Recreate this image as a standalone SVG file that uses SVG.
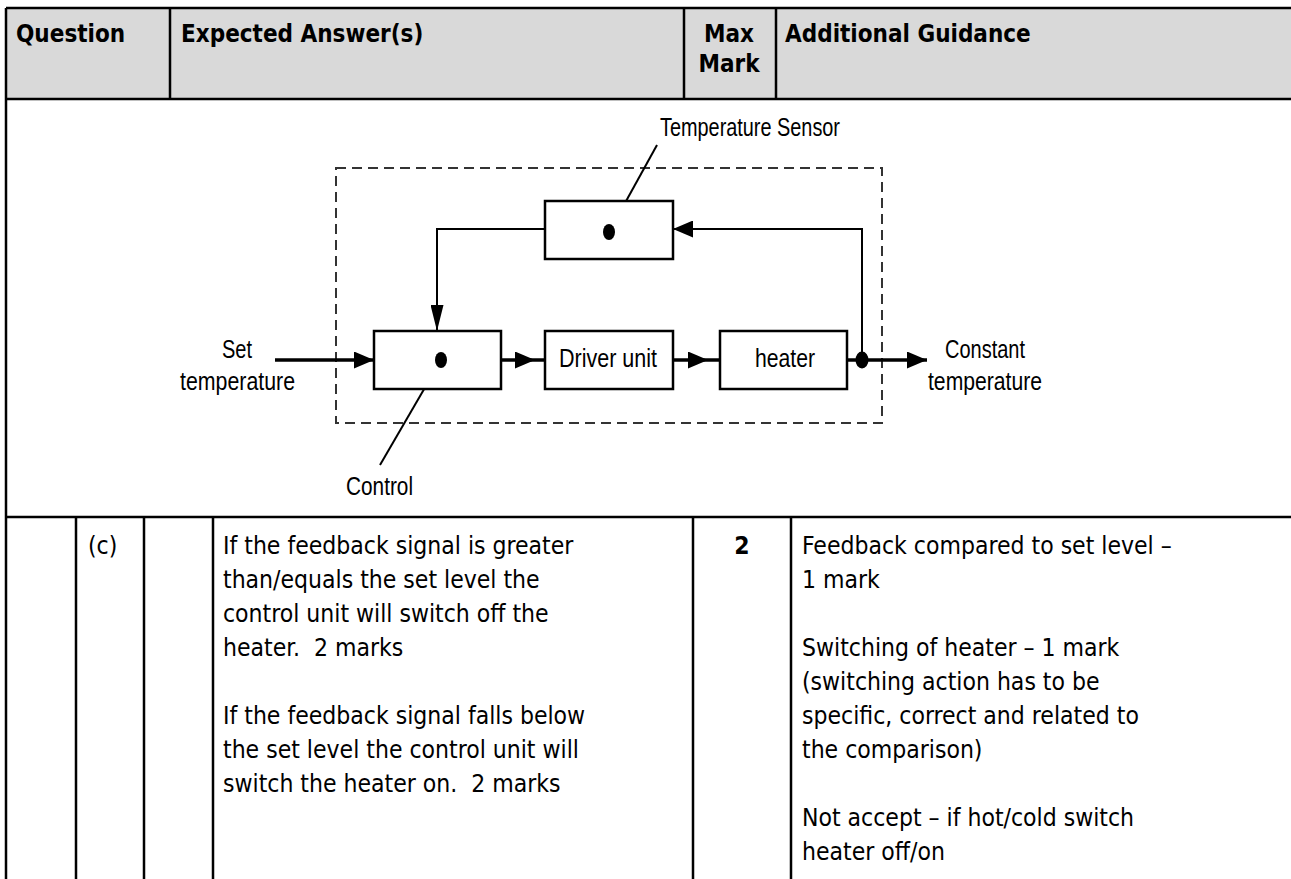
<svg xmlns="http://www.w3.org/2000/svg" width="1291" height="879" viewBox="0 0 1291 879">
<style>
.tl{stroke:#000;stroke-width:2.5;fill:none}
.hd{font-family:"DejaVu Sans Condensed","DejaVu Sans",sans-serif;font-stretch:condensed;font-weight:bold;font-size:24px;fill:#000}
.bd{font-family:"DejaVu Sans Condensed","DejaVu Sans",sans-serif;font-stretch:condensed;font-size:24.5px;fill:#000}
.dg{font-family:"Liberation Sans",Arial,sans-serif;font-size:25px;fill:#000}
.box{fill:#fff;stroke:#000;stroke-width:2.5}
.sig{stroke:#000;stroke-width:3.5;fill:none}
.fb{stroke:#000;stroke-width:2;fill:none}
.ld{stroke:#000;stroke-width:2;fill:none}
</style>
<defs>
<marker id="ah" markerUnits="userSpaceOnUse" markerWidth="20" markerHeight="17" viewBox="0 0 20 17" refX="20" refY="8.5" orient="auto">
<path d="M0,0 L20,8.5 L0,17 z" fill="#000"/>
</marker>
<marker id="ahn" markerUnits="userSpaceOnUse" markerWidth="26" markerHeight="13" viewBox="0 0 26 13" refX="26" refY="6.5" orient="auto">
<path d="M0,0 L26,6.5 L0,13 z" fill="#000"/>
</marker>
</defs>
<rect width="1291" height="879" fill="#fff"/>
<g id="table">
<rect x="6" y="8" width="1285" height="91" fill="#d9d9d9"/>
<path class="tl" d="M6,8 H1291 M6,99 H1291 M6,517 H1291 M6,8 V879 M170,8 V99 M684,8 V99 M776,8 V99 M76,517 V879 M144,517 V879 M213,517 V879 M693,517 V879 M791,517 V879"/>
<text class="hd" x="16" y="42">Question</text>
<text class="hd" x="181" y="42">Expected Answer(s)</text>
<text class="hd" x="729" y="42" text-anchor="middle">Max</text>
<text class="hd" x="729" y="72" text-anchor="middle">Mark</text>
<text class="hd" x="785" y="42">Additional Guidance</text>
<text class="bd" x="88" y="554">(c)</text>
<text class="bd" x="223" y="554">If the feedback signal is greater</text>
<text class="bd" x="223" y="588">than/equals the set level the</text>
<text class="bd" x="223" y="622">control unit will switch off the</text>
<text class="bd" x="223" y="656">heater.&#160; 2 marks</text>
<text class="bd" x="223" y="724">If the feedback signal falls below</text>
<text class="bd" x="223" y="758">the set level the control unit will</text>
<text class="bd" x="223" y="792">switch the heater on.&#160; 2 marks</text>
<text class="bd" x="742" y="554" text-anchor="middle" font-weight="bold">2</text>
<text class="bd" x="802" y="554">Feedback compared to set level –</text>
<text class="bd" x="802" y="588">1 mark</text>
<text class="bd" x="802" y="656">Switching of heater – 1 mark</text>
<text class="bd" x="802" y="690">(switching action has to be</text>
<text class="bd" x="802" y="724">specific, correct and related to</text>
<text class="bd" x="802" y="758">the comparison)</text>
<text class="bd" x="802" y="826">Not accept – if hot/cold switch</text>
<text class="bd" x="802" y="860">heater off/on</text>
</g>
<g id="boundary">
<rect x="336" y="168" width="546" height="255" fill="none" stroke="#333" stroke-width="2" stroke-dasharray="10 6"/>
</g>
<g id="connectors">
<path class="sig" d="M275,360 H374" marker-end="url(#ah)"/>
<path class="sig" d="M501,360 H535" marker-end="url(#ah)"/>
<path class="sig" d="M535,360 H545"/>
<path class="sig" d="M673,360 H708" marker-end="url(#ah)"/>
<path class="sig" d="M708,360 H720"/>
<path class="sig" d="M847,360 H927" marker-end="url(#ah)"/>
<path class="fb" d="M862,360 V229 H673" marker-end="url(#ah)"/>
<path class="fb" d="M545,229 H437 V331" marker-end="url(#ahn)"/>
<path class="ld" d="M657,145 L609,232"/>
<path class="ld" d="M441,360 L380,465"/>
<ellipse cx="862" cy="360" rx="6.5" ry="8.5" fill="#000"/>
</g>
<g id="sensor">
<rect class="box" x="545" y="201" width="128" height="58"/>
<ellipse cx="609" cy="232" rx="6" ry="8" fill="#000"/>
<text class="dg" x="660" y="136" textLength="180" lengthAdjust="spacingAndGlyphs">Temperature Sensor</text>
</g>
<g id="control">
<rect class="box" x="374" y="331" width="127" height="58"/>
<ellipse cx="441" cy="360" rx="6" ry="8" fill="#000"/>
<text class="dg" x="346" y="495" textLength="67" lengthAdjust="spacingAndGlyphs">Control</text>
</g>
<g id="driver">
<rect class="box" x="545" y="331" width="128" height="58"/>
<text class="dg" x="559" y="367" textLength="98" lengthAdjust="spacingAndGlyphs">Driver unit</text>
</g>
<g id="heater">
<rect class="box" x="720" y="331" width="127" height="58"/>
<text class="dg" x="755" y="367" textLength="60" lengthAdjust="spacingAndGlyphs">heater</text>
</g>
<g id="set-input">
<text class="dg" x="222" y="358" textLength="30" lengthAdjust="spacingAndGlyphs">Set</text>
<text class="dg" x="180" y="390" textLength="115" lengthAdjust="spacingAndGlyphs">temperature</text>
</g>
<g id="output">
<text class="dg" x="945" y="358" textLength="80" lengthAdjust="spacingAndGlyphs">Constant</text>
<text class="dg" x="928" y="390" textLength="114" lengthAdjust="spacingAndGlyphs">temperature</text>
</g>
</svg>
